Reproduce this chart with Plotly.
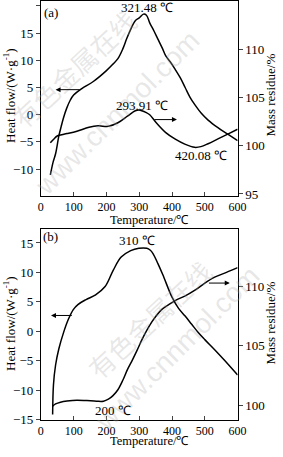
import plotly.graph_objects as go

# ---------- data: panel (a) ----------
hf_a_x = [29, 38, 45, 55, 62, 69, 79, 90, 100, 125, 160, 200, 220, 235, 250, 262, 274, 288, 300, 313, 322, 332, 345, 357, 370, 381, 395, 410, 425, 440, 455, 470, 490, 510, 540, 570, 600]
hf_a_y = [-11.1, -8.6, -7.2, -3.9, -2.2, -0.6, 1.2, 2.7, 3.6, 4.8, 6.1, 8.1, 9.3, 10.3, 12.1, 14.0, 15.7, 17.3, 17.8, 18.5, 18.3, 16.9, 15.4, 13.9, 12.3, 10.8, 9.7, 8.3, 6.8, 5.0, 3.2, 1.8, 0.2, -1.0, -2.4, -3.6, -4.8]
ms_a_x = [29, 40, 50, 60, 80, 110, 147, 175, 206, 235, 264, 288, 300, 308, 320, 332, 352, 381, 410, 439, 469, 488, 510, 540, 570, 600]
ms_a_y = [100.3, 100.7, 101.0, 101.1, 101.25, 101.5, 101.9, 102.05, 102.0, 102.37, 103.05, 103.62, 103.7, 103.62, 103.45, 103.2, 102.37, 101.35, 100.67, 100.16, 99.83, 99.9, 100.2, 100.7, 101.2, 101.7]

# ---------- data: panel (b) ----------
hf_b_x = [36, 38.5, 45, 55, 69.5, 84, 99, 113, 138, 167, 196, 221, 245, 274, 299, 323, 333, 342, 357, 372, 400, 420, 440, 460, 480, 500, 530, 560, 600]
hf_b_y = [-14.1, -9.1, -5.7, -2.95, -0.17, 2.05, 3.7, 4.55, 5.4, 6.2, 7.6, 10.4, 12.6, 13.7, 14.1, 14.1, 13.8, 13.2, 11.5, 9.6, 5.8, 3.9, 2.6, 1.2, -0.2, -1.4, -3.1, -4.9, -7.4]
ms_b_x = [36, 45, 60, 80, 110, 140, 170, 191, 206, 220, 235, 250, 264, 279, 293, 308, 323, 338, 352, 370, 391, 415, 439, 470, 500, 530, 566, 600]
ms_b_y = [99.92, 100.1, 100.25, 100.35, 100.42, 100.38, 100.33, 100.33, 100.5, 100.8, 101.3, 102.1, 103.0, 103.8, 104.6, 105.5, 106.3, 107.0, 107.55, 108.1, 108.5, 108.9, 109.2, 109.7, 110.3, 110.8, 111.2, 111.6]

x_ticks = [0, 100, 200, 300, 400, 500, 600]
hf_a_ticks = [-10, -5, 0, 5, 10, 15, 20]
ms_a_ticks = [95, 100, 105, 110, 115]
hf_b_ticks = [-15, -10, -5, 0, 5, 10, 15]
ms_b_ticks = [100, 105, 110, 115]

W, H = 283, 457
def fx(px): return px / W
def fy(py): return 1 - py / H

FONT = "Liberation Serif, Times New Roman, serif"
fig = go.Figure()
line = dict(color="black", width=1.5)
fig.add_trace(go.Scatter(x=hf_a_x, y=hf_a_y, mode="lines", line=dict(line, shape="spline"), xaxis="x", yaxis="y"))
fig.add_trace(go.Scatter(x=ms_a_x, y=ms_a_y, mode="lines", line=dict(line, shape="spline"), xaxis="x", yaxis="y2"))
fig.add_trace(go.Scatter(x=hf_b_x, y=hf_b_y, mode="lines", line=dict(line, shape="spline"), xaxis="x2", yaxis="y3"))
fig.add_trace(go.Scatter(x=ms_b_x, y=ms_b_y, mode="lines", line=dict(line, shape="spline"), xaxis="x2", yaxis="y4"))

xd = [fx(39.5), fx(245)]
dom_a = [fy(199), fy(1)]
dom_b = [fy(427.3), fy(233)]
tf = dict(family=FONT, size=13, color="black")
tfx = dict(family=FONT, size=12, color="black")
common_x = dict(range=[0, 600], tickvals=x_ticks, ticks="inside", ticklen=4, showline=True, linecolor="black",
                linewidth=1, mirror=True, showgrid=False, zeroline=False, tickfont=tfx, domain=xd)
common_y = dict(ticks="outside", ticklen=4, showline=True, linecolor="black", linewidth=1,
                showgrid=False, zeroline=False, tickfont=tf)
fig.update_layout(
    width=W, height=H, margin=dict(l=0, r=0, t=0, b=0),
    paper_bgcolor="white", plot_bgcolor="white", showlegend=False,
    xaxis=dict(common_x, anchor="y"),
    yaxis=dict(common_y, domain=dom_a, range=[-14.88, 20.92], tickvals=hf_a_ticks, anchor="x"),
    yaxis2=dict(common_y, overlaying="y", side="right", range=[94.84, 114.98], tickvals=ms_a_ticks, anchor="x"),
    xaxis2=dict(common_x, anchor="y3"),
    yaxis3=dict(common_y, domain=dom_b, range=[-15, 17.38], tickvals=hf_b_ticks, anchor="x2"),
    yaxis4=dict(common_y, overlaying="y3", side="right", range=[98.76, 114.87], tickvals=ms_b_ticks, anchor="x2"),
)

ann = []
def txt(px, py, s, angle=0, size=13, color="black", family=FONT):
    ann.append(dict(x=fx(px), y=fy(py), xref="paper", yref="paper", text=s, showarrow=False,
                    textangle=angle, font=dict(family=family, size=size, color=color),
                    xanchor="center", yanchor="middle"))

# watermark
wm = "rgba(170,170,170,0.28)"
txt(74, 70, "有色金属在线", angle=-43, size=26, color=wm, family="Noto Sans CJK SC")
txt(120, 115, "www.cnnmol.com", angle=-45, size=28, color=wm, family="Liberation Sans")
txt(152, 325, "有色金属在线", angle=-43, size=26, color=wm, family="Noto Sans CJK SC")
txt(182, 355, "www.cnnmol.com", angle=-45, size=28, color=wm, family="Liberation Sans")

# axis titles
txt(7, 97, "Heat flow/(W·g<sup>-1</sup>)", angle=-90)
txt(7, 329, "Heat flow/(W·g<sup>-1</sup>)", angle=-90)
txt(279, 97, "Mass residue/%", angle=-90)
txt(279, 329, "Mass residue/%", angle=-90)
txt(153, 223.5, "Temperature/℃", size=12.5)
txt(153, 449, "Temperature/℃", size=12.5)

# labels
txt(50, 13, "(a)")
txt(150, 8, "321.48 ℃")
txt(145, 107, "293.91 ℃")
txt(207, 158, "420.08 ℃")
txt(50, 241, "(b)")
txt(140, 245, "310 ℃")
txt(115, 418, "200 ℃")

def arrow(x0, x1, y, xr, yr):
    ann.append(dict(x=x1, y=y, ax=x0, ay=y, xref=xr, yref=yr, axref=xr, ayref=yr, text="",
                    showarrow=True, arrowhead=2, arrowsize=1, arrowwidth=1, arrowcolor="black"))

arrow(123, 45, 4.6, "x", "y")
arrow(342, 415, 102.7, "x", "y2")
arrow(99, 31, 2.7, "x2", "y3")
arrow(508, 576, 110.3, "x2", "y4")

fig.update_layout(annotations=ann)
fig.write_html("out.html")
